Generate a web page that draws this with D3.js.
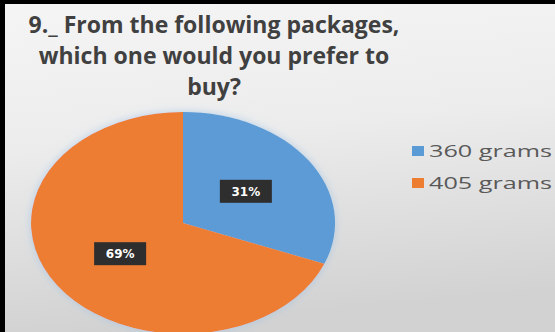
<!DOCTYPE html>
<html>
<head>
<meta charset="utf-8">
<script src="https://cdn.jsdelivr.net/npm/d3@7"></script>
<style>
  html, body { margin: 0; padding: 0; background: #fff; }
  svg { display: block; }
</style>
</head>
<body>
<div id="chart"></div>
<script>
const width = 555
const height = 332

// data
const categories = ["360 grams", "405 grams"]
const values = [31, 69]
const colors = ["#5b9bd5", "#ed7d31"]
const titleLines = ["9._ From the following packages,", "which one would you prefer to", "buy?"]

const svg = d3.select("#chart")
  .append("svg")
  .attr("width", width)
  .attr("height", height)

const defs = svg.append("defs")
const bg = defs.append("linearGradient")
  .attr("id", "bg")
  .attr("x1", 0).attr("y1", 0).attr("x2", 0.15).attr("y2", 1)
bg.append("stop").attr("offset", "0%").attr("stop-color", "#f5f5f5")
bg.append("stop").attr("offset", "45%").attr("stop-color", "#ececec")
bg.append("stop").attr("offset", "100%").attr("stop-color", "#d2d2d2")

const glow = defs.append("filter").attr("id", "glow")
  .attr("x", "-20%").attr("y", "-20%").attr("width", "140%").attr("height", "140%")
glow.append("feGaussianBlur").attr("in", "SourceAlpha").attr("stdDeviation", 4).attr("result", "b")
glow.append("feFlood").attr("flood-color", "#9fc3e6").attr("flood-opacity", 0.7)
glow.append("feComposite").attr("in2", "b").attr("operator", "in").attr("result", "g")
const merge = glow.append("feMerge")
merge.append("feMergeNode").attr("in", "g")
merge.append("feMergeNode").attr("in", "SourceGraphic")

svg.append("rect")
  .attr("width", width).attr("height", height)
  .attr("fill", "url(#bg)")

// black frame on top and left
svg.append("rect").attr("x", 0).attr("y", 0).attr("width", width).attr("height", 4).attr("fill", "#000")
svg.append("rect").attr("x", 0).attr("y", 0).attr("width", 5).attr("height", height).attr("fill", "#000")

// title
svg.append("g")
  .selectAll("text")
  .data(titleLines)
  .join("text")
    .attr("x", 214)
    .attr("y", (d, i) => 33 + i * 31)
    .attr("text-anchor", "middle")
    .style("font", "bold 23px 'Open Sans', sans-serif")
    .attr("fill", "#404040")
    .text(d => d)

// pie, drawn on a unit circle and stretched into an ellipse
const cx = 183, cy = 223, rx = 152, ry = 111
const pie = d3.pie().sort(null).value(d => d)
const arcs = pie(values)
const arc = d3.arc().innerRadius(0).outerRadius(1)
const labelArc = d3.arc().innerRadius(0.5).outerRadius(0.5)

const pieG = svg.append("g")
  .attr("transform", `translate(${cx},${cy})`)
  .attr("filter", "url(#glow)")

pieG.append("g")
  .attr("transform", `scale(${rx},${ry})`)
  .selectAll("path")
  .data(arcs)
  .join("path")
    .attr("d", arc)
    .attr("fill", (d, i) => colors[i])

const labels = svg.append("g")
  .attr("transform", `translate(${cx},${cy})`)
  .selectAll("g")
  .data(arcs)
  .join("g")
    .attr("transform", d => {
      const [x, y] = labelArc.centroid(d)
      return `translate(${x * rx},${y * ry})`
    })

labels.append("rect")
  .attr("x", -26).attr("y", -12)
  .attr("width", 52).attr("height", 23)
  .attr("fill", "#2e2e2e")

labels.append("text")
  .attr("text-anchor", "middle")
  .attr("dy", "0.35em")
  .style("font", "bold 12px 'DejaVu Sans', sans-serif")
  .attr("fill", "#fff")
  .text(d => d.data + "%")

// legend
const legend = svg.append("g")
  .selectAll("g")
  .data(categories)
  .join("g")
    .attr("transform", (d, i) => `translate(412,${146 + i * 32})`)

legend.append("rect")
  .attr("width", 12).attr("height", 10)
  .attr("fill", (d, i) => colors[i])

legend.append("text")
  .attr("x", 17)
  .attr("y", 11)
  .attr("textLength", 123)
  .attr("lengthAdjust", "spacingAndGlyphs")
  .style("font", "16px 'Open Sans', sans-serif")
  .attr("fill", "#595959")
  .text(d => d)
</script>
</body>
</html>
